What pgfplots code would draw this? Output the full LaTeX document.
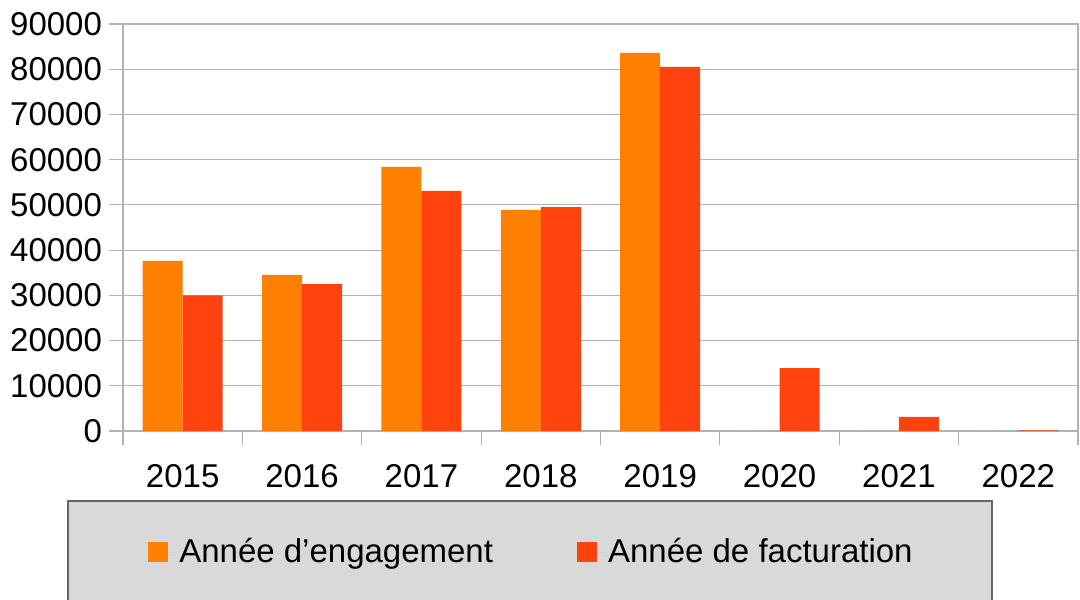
\documentclass[border=0pt]{standalone}
\usepackage{fontspec}
\setmainfont{Liberation Sans}
\usepackage{pgfplots}
\pgfplotsset{compat=1.18}
\definecolor{engage}{HTML}{FF8000}
\definecolor{factu}{HTML}{FF420E}
\definecolor{gridc}{HTML}{B3B3B3}
\definecolor{legfill}{HTML}{D9D9D9}
\definecolor{legdraw}{HTML}{666666}

\begin{document}
\begin{tikzpicture}
\path[use as bounding box, clip] (0,0) rectangle (540pt,299.5pt);
% legend background
\filldraw[fill=legfill, draw=legdraw, line width=0.6pt] (34pt,-20pt) rectangle (496pt,49pt);
\begin{axis}[
    at={(61.5pt,84pt)}, anchor=south west,
    scale only axis,
    width=477.5pt, height=203.5pt,
    ybar=0pt, bar width=20pt,
    xmin=-0.5, xmax=7.5,
    ymin=0, ymax=90000,
    ytick={0,10000,...,90000},
    xtick={-0.5,0.5,...,7.5},
    xticklabels={},
    extra x ticks={0,1,2,3,4,5,6,7},
    extra x tick labels={2015,2016,2017,2018,2019,2020,2021,2022},
    extra x tick style={grid=none, tick style={draw=none},
        xticklabel style={yshift=-6pt}},
    major tick length=7pt,
    tick align=outside,
    xtick pos=bottom, ytick pos=left,
    ymajorgrids,
    grid style={gridc, line width=0.6pt},
    axis line style={gridc, line width=0.6pt},
    tick style={gridc, line width=0.6pt},
    tick label style={font=\fontsize{16.5}{19}\selectfont, black},
    scaled y ticks=false,
    /pgf/number format/.cd, fixed, set thousands separator={}, assume math mode=true,
    /pgfplots/.cd,
    legend style={at={(axis description cs:0.4288,-0.2973)}, anchor=center,
        draw=none, fill=none, font=\fontsize{16.5}{19}\selectfont,
        legend columns=2, column sep=0pt,
        /tikz/every even column/.append style={column sep=40pt}},
    legend image code/.code={\fill[#1] (0pt,-5pt) rectangle (10pt,5pt);
        \path (0pt,0pt) -- (13.5pt,0pt);},
]
\addplot[fill=engage, draw=none] coordinates {
    (0,37600) (1,34500) (2,58400) (3,48900) (4,83600) (5,0) (6,0) (7,0)};
\addplot[fill=factu, draw=none] coordinates {
    (0,30000) (1,32500) (2,53100) (3,49500) (4,80500) (5,13900) (6,3100) (7,150)};
\legend{Année d’engagement, Année de facturation}
\end{axis}
\end{tikzpicture}
\end{document}
